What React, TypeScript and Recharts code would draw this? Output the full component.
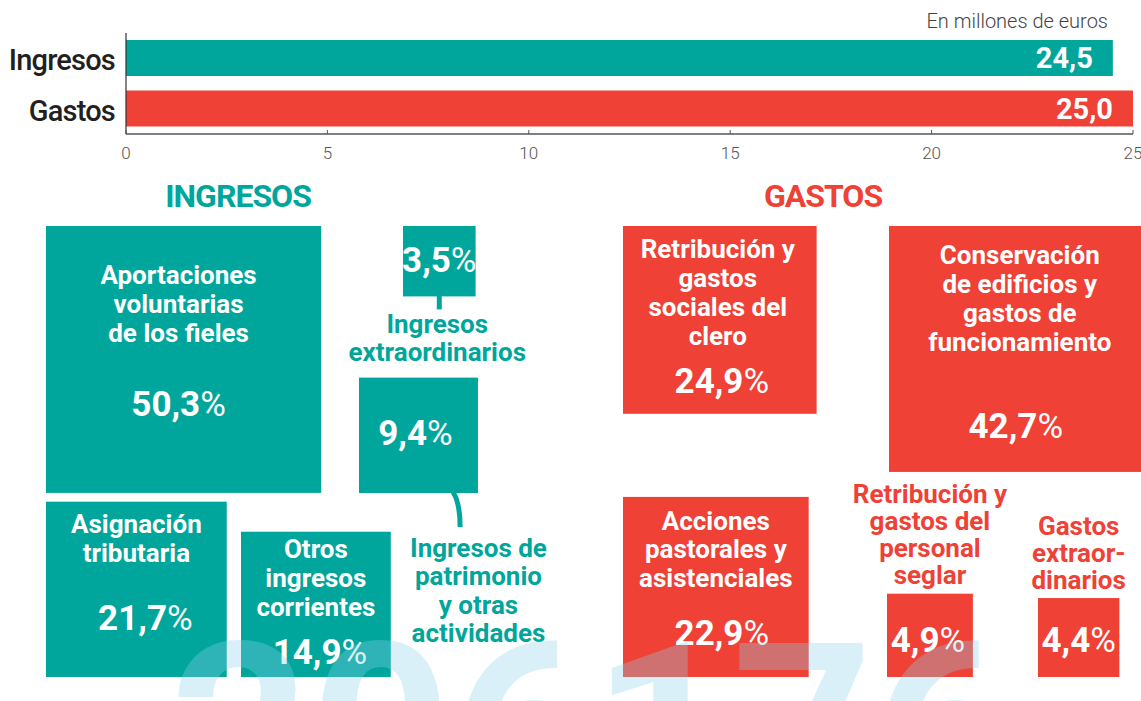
import React from 'react';
import {
  BarChart,
  Bar,
  XAxis,
  YAxis,
  Cell,
  LabelList,
  ScatterChart,
  Scatter,
  ZAxis,
} from 'recharts';

// ---------- data ----------
const summaryCategories = ['Ingresos', 'Gastos'];
const summaryValues = [24.5, 25.0];
const summaryTicks = [0, 5, 10, 15, 20, 25];
const unitNote = 'En millones de euros';

const incomeTitle = 'INGRESOS';
const incomeLabels = [
  'Aportaciones\nvoluntarias\nde los fieles',
  'Asignación\ntributaria',
  'Otros\ningresos\ncorrientes',
  'Ingresos de\npatrimonio\ny otras\nactividades',
  'Ingresos\nextraordinarios',
];
const incomeShares = [50.3, 21.7, 14.9, 9.4, 3.5];

const expenseTitle = 'GASTOS';
const expenseLabels = [
  'Conservación\nde edificios y\ngastos de\nfuncionamiento',
  'Retribución y\ngastos\nsociales del\nclero',
  'Acciones\npastorales y\nasistenciales',
  'Retribución y\ngastos del\npersonal\nseglar',
  'Gastos\nextraor-\ndinarios',
];
const expenseShares = [42.7, 24.9, 22.9, 4.9, 4.4];

const watermarkText = '206176';

// ---------- styling / layout ----------
const FONT = 'Roboto, "Noto Sans", "DejaVu Sans", sans-serif';
const TEAL = '#00a69c';
const RED = '#ef4136';
const summaryColors = [TEAL, RED];

const PX_PER_POINT_SIDE = 38.8; // side of the square for 1 percentage point -> sqrt scaling
const ASPECT = 0.97;

// layout: left edge, anchor y, anchor side, text offsets (relative to box centre-x / top)
const incomeLayout = [
  { left: 46, ay: 56, anchor: 'top', lx: -5, ly: 58, px: -5, py: 190, inside: true },
  { left: 46, ay: 507, anchor: 'bottom', lx: 0, ly: 31, px: 9, py: 128, inside: true },
  { left: 241, ay: 507, anchor: 'bottom', lx: 0, ly: 26, px: 4, py: 132, inside: true },
  { left: 359, ay: 323, anchor: 'bottom', lx: 60, ly: 179, px: -3, py: 67, inside: false, lh: 28.5, connector: 'curve' },
  { left: 403, ay: 56, anchor: 'top', lx: -2, ly: 107, px: 0, py: 46, inside: false, lh: 28, connector: 'line' },
];
const expenseLayout = [
  { left: 889, ay: 56, anchor: 'top', lx: 4, ly: 38, px: 0, py: 212, inside: true },
  { left: 623, ay: 56, anchor: 'top', lx: -2, ly: 32, px: 2, py: 167, inside: true },
  { left: 623, ay: 507, anchor: 'bottom', lx: 0, ly: 33, px: 6, py: 148, inside: true, lh: 28.5 },
  { left: 887, ay: 507, anchor: 'bottom', lx: 0, ly: -91, px: -2, py: 58, inside: false, lh: 27 },
  { left: 1038, ay: 507, anchor: 'bottom', lx: 0, ly: -63, px: 0, py: 54, inside: false, lh: 27 },
];

const fmt = (v: number) => v.toFixed(1).replace('.', ',');

const summaryData = summaryCategories.map((name, i) => ({ name, value: summaryValues[i] }));

const buildRows = (labels: string[], shares: number[], layout: any[], color: string) =>
  labels.map((label, i) => ({
    x: layout[i].left,
    y: layout[i].ay,
    z: shares[i],
    label,
    share: shares[i],
    color,
    ...layout[i],
  }));

const incomeRows = buildRows(incomeLabels, incomeShares, incomeLayout, TEAL);
const expenseRows = buildRows(expenseLabels, expenseShares, expenseLayout, RED);

const W = 1141;
const TOP_H = 170;
const BOTTOM_H = 531;

function XTick(props: any) {
  const { x, y, payload } = props;
  const axisY = y - 13;
  return (
    <g>
      <line x1={x} x2={x} y1={axisY - 4} y2={axisY} stroke="#555" strokeWidth={1} />
      <text x={x} y={y + 12} textAnchor="middle" fill="#555" fontFamily={FONT} fontWeight={300} fontSize={17}>
        {payload.value}
      </text>
    </g>
  );
}

function YTick(props: any) {
  const { x, y, payload } = props;
  return (
    <text
      x={x}
      y={y + 12}
      textAnchor="end"
      fill="#231f20"
      fontFamily={FONT}
      fontWeight={500}
      fontSize={29}
      letterSpacing={-0.8}
    >
      {payload.value}
    </text>
  );
}

function BoxShape(props: any) {
  const { cx, cy, size, payload } = props;
  const side = Math.sqrt(size);
  const w = side;
  const h = side * ASPECT;
  const left = cx;
  const top = payload.anchor === 'top' ? cy : cy - h;
  const mid = left + w / 2;
  const lines: string[] = payload.label.split('\n');
  const lh = payload.lh ?? 29;
  const color = payload.color;
  const labelColor = payload.inside ? '#ffffff' : color;
  return (
    <g>
      <rect x={left} y={top} width={w} height={h} fill={color} />
      {payload.connector === 'line' && (
        <line x1={mid} x2={mid} y1={top + h - 1} y2={top + h + 13} stroke={color} strokeWidth={5} />
      )}
      {payload.connector === 'curve' && (
        <path
          d={`M ${left + w * 0.79} ${top + h - 1} Q ${left + w * 0.85} ${top + h + 10} ${left + w * 0.85} ${top + h + 34}`}
          stroke={color}
          strokeWidth={5}
          fill="none"
        />
      )}
      <text textAnchor="middle" fill={labelColor} fontFamily={FONT} fontWeight={700} fontSize={26}>
        {lines.map((l, i) => (
          <tspan key={i} x={mid + payload.lx} y={top + payload.ly + i * lh}>
            {l}
          </tspan>
        ))}
      </text>
      <text x={mid + payload.px} y={top + payload.py} textAnchor="middle" fill="#ffffff" fontFamily={FONT} fontSize={35}>
        <tspan fontWeight={700}>{fmt(payload.share)}</tspan>
        <tspan fontWeight={400}>%</tspan>
      </text>
    </g>
  );
}

export default function App() {
  return (
    <div
      style={{
        position: 'absolute',
        left: 0,
        top: 0,
        width: W,
        height: TOP_H + BOTTOM_H,
        background: '#ffffff',
        overflow: 'hidden',
      }}
    >
      <div style={{ position: 'absolute', left: 0, top: 0 }}>
        <BarChart
          width={W}
          height={TOP_H}
          data={summaryData}
          layout="vertical"
          margin={{ top: 33, right: 8, bottom: 6, left: 0 }}
          barSize={36}
        >
          <XAxis
            type="number"
            domain={[0, 25]}
            ticks={summaryTicks}
            allowDataOverflow
            axisLine={{ stroke: '#555', strokeWidth: 1.5 }}
            tickLine={false}
            tickSize={6}
            tickMargin={7}
            height={30}
            tick={<XTick />}
          />
          <YAxis
            type="category"
            dataKey="name"
            width={126}
            axisLine={{ stroke: '#333', strokeWidth: 1.2 }}
            tickLine={false}
            tickSize={6}
            tickMargin={5}
            tick={<YTick />}
          />
          <Bar dataKey="value" isAnimationActive={false}>
            {summaryData.map((d, i) => (
              <Cell key={d.name} fill={summaryColors[i]} />
            ))}
            <LabelList
              dataKey="value"
              position="insideRight"
              offset={20}
              formatter={(v: any) => fmt(Number(v))}
              style={{ fill: '#ffffff', fontSize: 29, fontWeight: 700, fontFamily: FONT }}
            />
          </Bar>
        </BarChart>
      </div>

      <div style={{ position: 'absolute', left: 0, top: TOP_H }}>
        <ScatterChart width={W} height={BOTTOM_H} margin={{ top: 0, right: 0, bottom: 0, left: 0 }}>
          <XAxis type="number" dataKey="x" domain={[0, W]} hide allowDataOverflow />
          <YAxis type="number" dataKey="y" domain={[0, BOTTOM_H]} hide reversed allowDataOverflow />
          <ZAxis
            type="number"
            dataKey="z"
            domain={[0, 100]}
            range={[0, 100 * PX_PER_POINT_SIDE * PX_PER_POINT_SIDE]}
          />
          <Scatter data={incomeRows} shape={BoxShape} isAnimationActive={false} />
          <Scatter data={expenseRows} shape={BoxShape} isAnimationActive={false} />
        </ScatterChart>
      </div>

      <svg
        width={W}
        height={TOP_H + BOTTOM_H}
        style={{ position: 'absolute', left: 0, top: 0, pointerEvents: 'none' }}
      >
        <text x={1108} y={28} textAnchor="end" fill="#444" fontFamily={FONT} fontWeight={300} fontSize={20}>
          {unitNote}
        </text>
        <text x={238} y={207} textAnchor="middle" fill={TEAL} fontFamily={FONT} fontWeight={700} fontSize={32} letterSpacing={-1}>
          {incomeTitle}
        </text>
        <text x={823} y={207} textAnchor="middle" fill={RED} fontFamily={FONT} fontWeight={700} fontSize={32} letterSpacing={-1}>
          {expenseTitle}
        </text>
        <text x={170} y={817} fill="#8fd3ee" opacity={0.32} fontFamily={FONT} fontWeight={700} fontSize={245}>
          {watermarkText}
        </text>
      </svg>
    </div>
  );
}
